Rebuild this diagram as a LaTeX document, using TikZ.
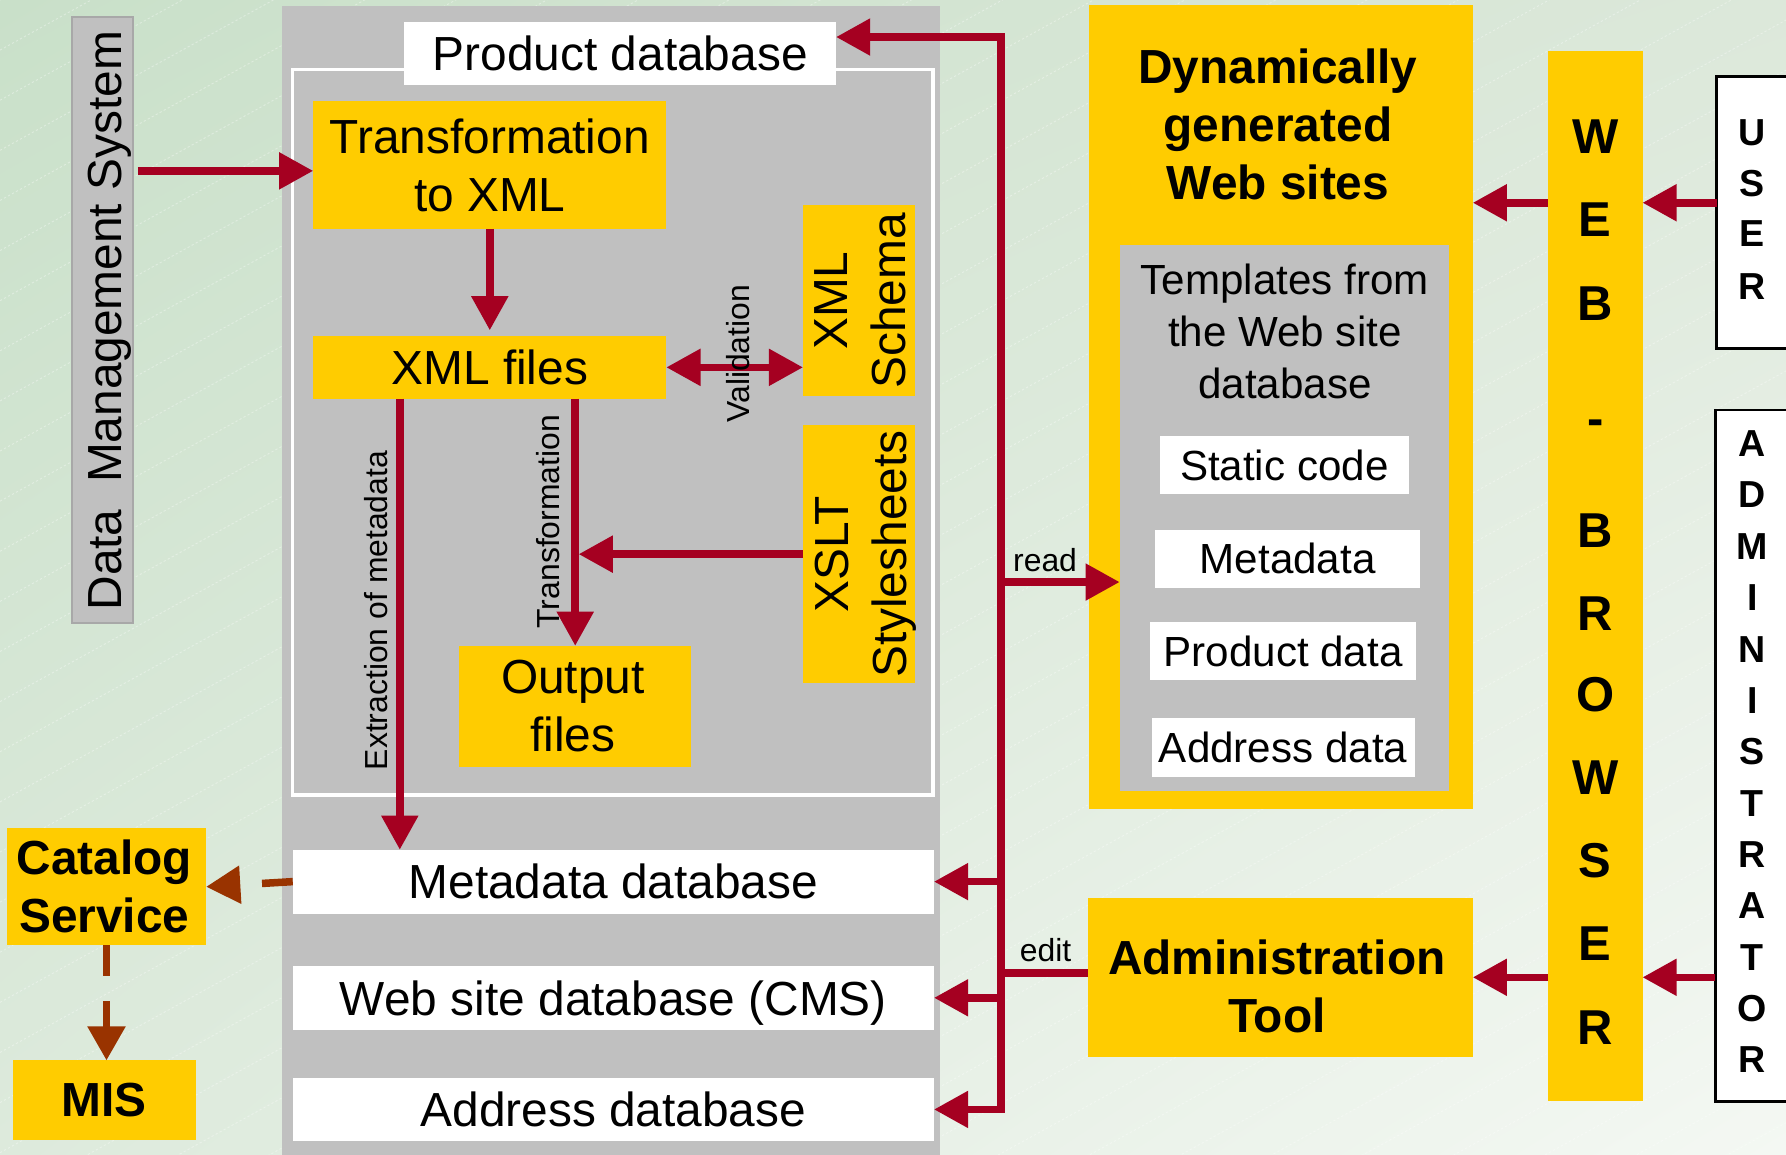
\documentclass[tikz,border=0pt]{standalone}
\usepackage{fontspec}
\setmainfont{Liberation Sans}
\usetikzlibrary{arrows.meta,fit,calc,shadings}
\definecolor{dred}{HTML}{A50021}
\definecolor{ylw}{HTML}{FFCC00}
\definecolor{gry}{HTML}{C0C0C0}
\definecolor{brn}{HTML}{993300}
\definecolor{dmsline}{HTML}{A8A8A8}
\definecolor{bgUL}{HTML}{C9E0C9}
\definecolor{bgUR}{HTML}{DCE8DA}
\definecolor{bgLL}{HTML}{DDEADC}
\definecolor{bgLR}{HTML}{F4F8F3}
\begin{document}
\begin{tikzpicture}[x=0.5pt,y=-0.5pt,
  bx/.style={inner sep=0pt, outer sep=0pt},
  ybox/.style={bx, fill=ylw},
  wbox/.style={bx, fill=white},
  gbox/.style={bx, fill=gry},
  txt/.style={inner sep=0pt, align=center},
  fbig/.style={txt, font=\fontsize{21pt}{25.5pt}\selectfont},
  fbigb/.style={txt, font=\fontsize{21pt}{25.5pt}\selectfont\bfseries},
  fmed/.style={txt, font=\fontsize{18.5pt}{22.65pt}\selectfont},
  fsmall/.style={txt, font=\fontsize{14pt}{17pt}\selectfont},
  wline/.style={draw=dred, line width=3.3pt},
  arr/.style={wline, -{Triangle[length=15pt,width=15.5pt]}},
  darr/.style={wline, {Triangle[length=15pt,width=15.5pt]}-{Triangle[length=15pt,width=15.5pt]}},
  barr/.style={draw=brn, line width=3.3pt, dash pattern=on 13.5pt off 11pt, -{Triangle[length=15pt,width=16pt]}},
  letterW/.style={font=\fontsize{21.5pt}{26pt}\selectfont\bfseries, inner sep=0pt, anchor=base},
  letterU/.style={font=\fontsize{16.5pt}{20pt}\selectfont\bfseries, inner sep=0pt, anchor=base},
  rlabel/.style={fsmall, rotate=90, anchor=base},
]
\useasboundingbox (0,0) rectangle (1568,1014);
\clip (0,0) rectangle (1568,1014);
% background
\shade[upper left=bgUL, upper right=bgUR, lower left=bgLL, lower right=bgLR] (0,0) rectangle (1568,1014);
\foreach \k in {0,...,44}
  \draw[white, opacity=0.35, line width=0.4pt, dash pattern=on 1pt off 1pt] (0,\k*44) -- ++(1600,-880);

% Data management system
\node[gbox, draw=dmsline, line width=0.8pt, fit={(63,15)(117,547)}] (dms) {};
\node[fbig, rotate=90, anchor=base] (dmst) at (107,281.5) {Data\ \ Management System};

% central panel
\node[gbox, fit={(248,5)(825,1020)}] (panel) {};
\node[bx, draw=white, line width=1.5pt, fit={(257,61)(819,698)}] (frame) {};
\node[wbox, fit={(355,19)(734,75)}] (pdb) {};
\node[fbig] (pdbt) at (pdb.center) {Product database};
\node[ybox, fit={(275,89)(585,201)}] (tr) {};
\node[fbig] (trt) at (tr.center) {Transformation\\to XML};
\node[ybox, fit={(275,295)(585,350)}] (xf) {};
\node[fbig] (xft) at (xf.center) {XML files};
\node[ybox, fit={(705,180)(803,348)}] (xs) {};
\node[fbig, rotate=90] (xst) at (755.5,264) {XML\\Schema};
\node[ybox, fit={(705,373)(803,600)}] (xsl) {};
\node[fbig, rotate=90] (xslt) at (760,486.5) {XSLT\\Stylesheets};
\node[ybox, fit={(403,567)(607,673)}] (out) {};
\node[fbig] (outt) at ([xshift=-1pt]out.center) {Output\\files};
\node[wbox, fit={(257,746)(820,802)}] (mdb) {};
\node[fbig] (mdbt) at (mdb.center) {Metadata database};
\node[wbox, fit={(257,848)(820,904)}] (wdb) {};
\node[fbig, text depth=0pt] (wdbt) at (wdb.center) {Web site database (CMS)};
\node[wbox, fit={(257,946)(820,1002)}] (adb) {};
\node[fbig] (adbt) at (adb.center) {Address database};

% left
\node[ybox, fit={(6,727)(181,830)}] (cat) {};
\node[fbigb] (catt) at ([xshift=-1pt]cat.center) {Catalog\\Service};
\node[ybox, fit={(11,931)(172,1001)}] (mis) {};
\node[fbigb] (mist) at (mis.center) {MIS};

% dynamic web sites
\node[ybox, fit={(956,4)(1293,710)}] (dyn) {};
\node[fbigb] (dynt) at (1122,109) {Dynamically\\generated\\Web sites};
\node[gbox, fit={(983,215)(1272,694)}] (tpl) {};
\node[fmed] (tplt) at (1128,291) {Templates from\\the Web site\\database};
\node[wbox, fit={(1018,383)(1237,434)}] (sc) {};
\node[fmed] (sct) at (sc.center) {Static code};
\node[wbox, fit={(1014,465)(1247,516)}] (md) {};
\node[fmed] (mdt) at (md.center) {Metadata};
\node[wbox, fit={(1010,546)(1243,597)}] (pd) {};
\node[fmed] (pdt) at (pd.center) {Product data};
\node[wbox, fit={(1011,630)(1242,682)}] (ad) {};
\node[fmed] (adt) at (ad.center) {Address data};

% administration tool
\node[ybox, fit={(955,788)(1293,928)}] (admt) {};
\node[fbigb] (admtt) at (1121,866) {Administration\\Tool};

% web browser
\node[ybox, fit={(1359,45)(1442,967)}] (web) {};
\foreach \ch/\yy [count=\i] in {W/119.3, E/192.5, B/266, B/465, R/538.5, O/609.5, W/682.5, S/755, E/828, R/901.5}
  \node[letterW] (wb\i) at (1400.5,\yy+15.4) {\ch};
\node[letterW] (wbh) at (1400.5,382) {-};

% user / administrator
\node[wbox, draw=black, line width=1.2pt, fit={(1507,67)(1590,306)}] (user) {};
\foreach \ch/\yy [count=\i] in {U/115.6, S/161, E/205, R/251}
  \node[letterU] (us\i) at (1538.5,\yy+11.8) {\ch};
\node[wbox, draw=black, line width=1.2pt, fit={(1506,360)(1590,967)}] (adm) {};
\foreach \ch [count=\i] in {A,D,M,I,N,I,S,T,R,A,T,O,R}
  \node[letterU] (ad\i) at (1538.5,389+45.1*\i-45.1+11.8) {\ch};

% connectors inside the panel
\coordinate (c1) at ([yshift=-2.5pt]tr.west);
\draw[arr] ([xshift=2pt]dms.east |- c1) -- (c1);
\draw[arr, shorten >=2.5pt] (tr.south) -- (xf.north);
\draw[darr] (xf.east) -- (xf.east -| xs.west);
\node[rlabel] (val) at (658,310.5) {Validation};
\draw[arr] (xf.south -| out.north) -- (out.north);
\node[rlabel] (trl) at (491,458) {Transformation};
\draw[arr, shorten >=1.5pt] (xsl.west) -- (xsl.west -| out.north);
\coordinate (ex) at (351,350);
\draw[arr] (ex) -- (ex |- mdb.north);
\node[rlabel] (exl) at (340,536) {Extraction of metadata};

% bus
\coordinate (bt) at (879,32.5);
\draw[darr] (bt -| pdb.east) -- (bt) -- (bt |- adb.east) -- (adb.east);
\draw[arr] (bt |- mdb.east) -- (mdb.east);
\draw[arr] (bt |- wdb.east) -- (wdb.east);
\coordinate (rd) at (879,511);
\draw[arr] (rd) -- (rd -| tpl.west);
\node[fsmall, anchor=base] (readl) at (917.5,502) {read};
\coordinate (ed) at (879,854);
\draw[wline] (ed) -- (ed -| admt.west);
\node[fsmall, anchor=base] (editl) at (918,844) {edit};

% browser arrows
\coordinate (ua) at (0,178);
\draw[arr] (user.west |- ua) -- (web.east |- ua);
\draw[arr] (web.west |- ua) -- (dyn.east |- ua);
\coordinate (aa) at (0,858);
\draw[arr] (adm.west |- aa) -- (web.east |- aa);
\draw[arr] (web.west |- aa) -- (admt.east |- aa);

% catalog service
\draw[barr] (mdb.west) -- (cat.east);
\draw[barr] (cat.south) -- (cat.south |- mis.north);
\end{tikzpicture}
\end{document}
